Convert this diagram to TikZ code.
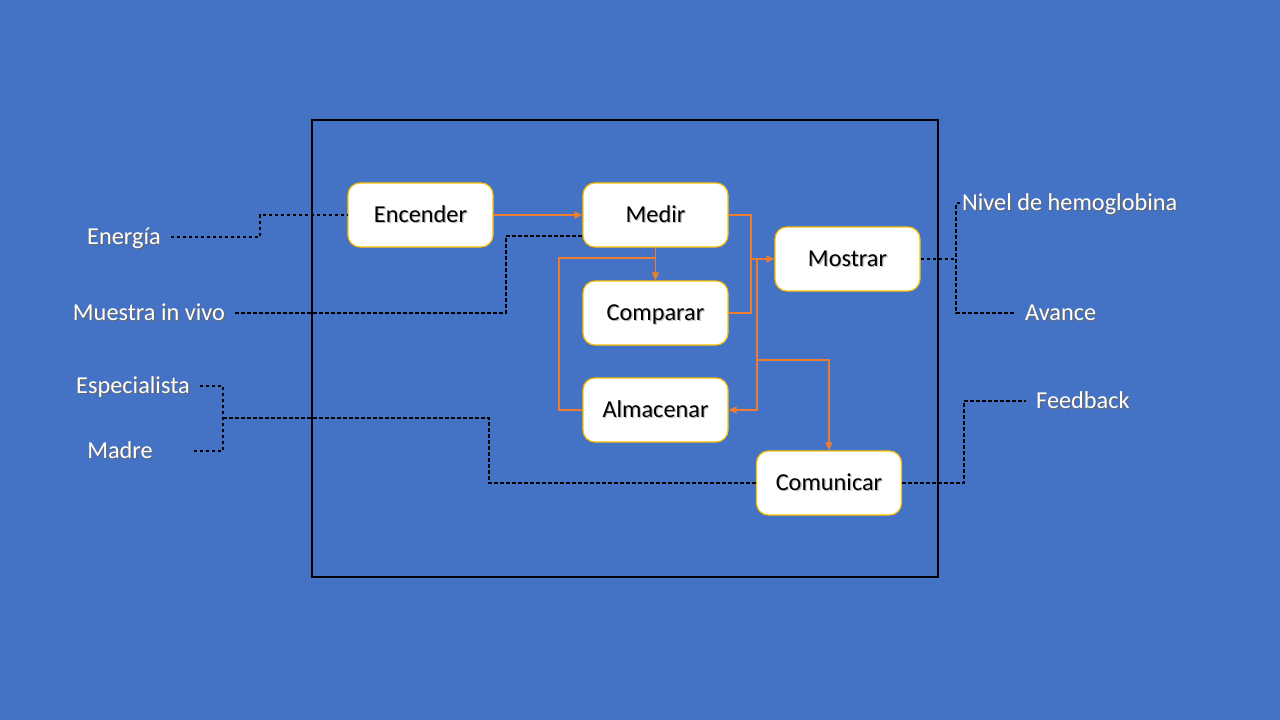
\documentclass[tikz,border=0pt]{standalone}
\usepackage{fontspec}
\setmainfont{Carlito}
\usetikzlibrary{arrows.meta}
\definecolor{bgblue}{HTML}{4472C4}
\definecolor{boxedge}{HTML}{FFC000}
\definecolor{flow}{HTML}{ED7D31}
\newcommand{\shd}[2]{\leavevmode\rlap{\kern1.2pt\raisebox{-1.2pt}{\textcolor{#1}{#2}}}#2}
\tikzset{
  stepbox/.style={draw=boxedge, line width=1.2pt, fill=white, rounded corners=12pt,
    minimum width=145pt, minimum height=64pt, text height=15.5pt, text depth=0pt,
    inner sep=0pt, font=\fontsize{24.3}{28}\selectfont, text=black},
  lab/.style={text=white, inner ysep=0pt, inner xsep=10pt, text height=15.5pt, text depth=0pt,
    font=\fontsize{24.3}{28}\selectfont},
  oline/.style={draw=flow, line width=1.4pt},
  oarrow/.style={oline, -{Triangle[length=8pt,width=7pt]}},
  dline/.style={draw=black, line width=1.2pt, dash pattern=on 3.5pt off 2.5pt},
}
\begin{document}
\begin{tikzpicture}[x=1pt,y=-1pt]
\fill[bgblue] (0,0) rectangle (1280,720);
\useasboundingbox (0,0) rectangle (1280,720);
% system boundary
\draw[black, line width=1.2pt] (312,120) rectangle (938,577);
% process boxes
\node[stepbox] (enc) at (420.5,215) {\shd{black!25}{Encender}};
\node[stepbox] (med) at (655.5,215) {\shd{black!25}{Medir}};
\node[stepbox] (mos) at (847.5,259) {\shd{black!25}{Mostrar}};
\node[stepbox] (cmp) at (655.5,313) {\shd{black!25}{Comparar}};
\node[stepbox] (alm) at (655.5,410) {\shd{black!25}{Almacenar}};
\node[stepbox] (com) at (829,483) {\shd{black!25}{Comunicar}};
% external labels
\node[lab] (en) at (124,237) {\shd{black!60}{Energía}};
\node[lab] (mu) at (149,313) {\shd{black!60}{Muestra in vivo}};
\node[lab] (esp) at (133,386) {\shd{black!60}{Especialista}};
\node[lab] (mad) at (120,451) {\shd{black!60}{Madre}};
\node[lab, anchor=west, inner xsep=2pt] (niv) at (960,203) {\shd{black!60}{Nivel de hemoglobina}};
\node[lab, anchor=west] (av) at (1015,313) {\shd{black!60}{Avance}};
\node[lab, anchor=west] (fb) at (1026,401) {\shd{black!60}{Feedback}};
% junction coordinates
\coordinate (j1) at (751,259);
\coordinate (j2) at (757,259);
\coordinate (j3) at (757,360);
\coordinate (j4) at (655.5,258);
\coordinate (j5) at (559,258);
\coordinate (e1) at (260,215);
\coordinate (m1) at (506,236);
\coordinate (n1) at (956,259);
\coordinate (n2) at (956,203);
\coordinate (s1) at (223,418);
\coordinate (s2) at (223,451);
\coordinate (md1) at (191,451);
\coordinate (s3) at (489,418);
\coordinate (f1) at (964,401);
% orange flows
\draw[oarrow] (enc.east) -- (med.west);
\draw[oline] (med.east) -| (j1);
\draw[oarrow] (j1) -- (mos.west);
\draw[oline] (cmp.east) -| (j1);
\draw[oarrow] (j2) |- (alm.east);
\draw[oarrow] (j3) -| (com.north);
\draw[oarrow] (med.south) -- (cmp.north);
\draw[oline] (j4) -- (j5) |- (alm.west);
% dashed external links
\draw[dline] (en.east) -| (e1) -- (enc.west);
\draw[dline] (mu.east) -| (m1) -- (med.west |- m1);
\draw[dline] (mos.east) -- (n1);
\draw[dline] (niv.west) -- (n2) |- (av.west);
\draw[dline] (esp.east) -| (s2) -- (md1);
\draw[dline] (s1) -- (s3) |- (com.west);
\draw[dline] (com.east) -| (f1) -- (fb.west);
\end{tikzpicture}
\end{document}
